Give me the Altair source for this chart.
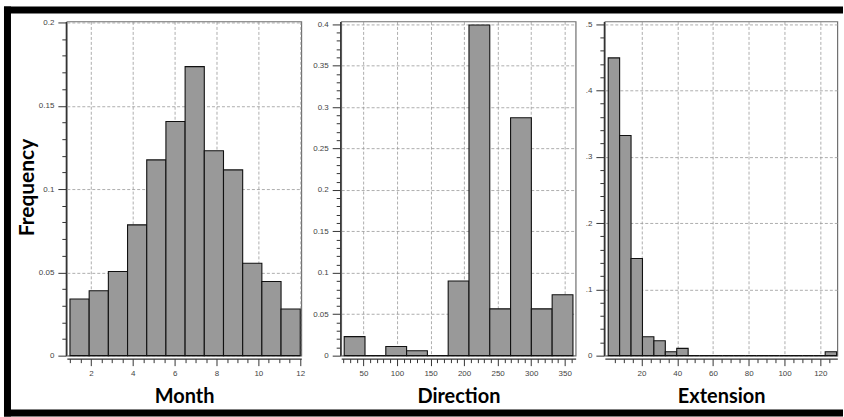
import altair as alt
import pandas as pd

# ---- data ----
month_freq = [0.034, 0.039, 0.0505, 0.0785, 0.1175, 0.1405, 0.1735, 0.123, 0.1115, 0.0555, 0.0445, 0.028]
month_start, month_width = 1.0, 11.0 / 12.0

direction_freq = [0.023, 0.0, 0.011, 0.006, 0.0, 0.09, 0.399, 0.0565, 0.287, 0.0565, 0.0735]
direction_start, direction_width = 21.3, 31.0

extension_freq = [0.449, 0.332, 0.1465, 0.0285, 0.0225, 0.006, 0.011,
                  0, 0, 0, 0, 0, 0, 0, 0, 0, 0, 0, 0, 0.006]
extension_start, extension_width = 1.4, 6.385

# tick positions (minor + major) and label steps
month_ticks = [1 + 0.5 * i for i in range(23)]
direction_ticks = list(range(20, 361, 10))
extension_ticks = list(range(5, 126, 5))
month_yticks = [round(0.01 * i, 2) for i in range(21)]
direction_yticks = [round(0.01 * i, 2) for i in range(41)]
extension_yticks = [round(0.02 * i, 2) for i in range(26)]


def hist_df(freq, start, width):
    return pd.DataFrame({
        "start": [start + i * width for i in range(len(freq))],
        "end": [start + (i + 1) * width for i in range(len(freq))],
        "freq": freq,
    })


def cond(test, major, minor):
    return {"condition": {"test": test, "value": major}, "value": minor}


def x_axis(values, test, title):
    return alt.Axis(
        values=values, title=title, offset=3,
        tickSize=cond(test, 7, 4),
        gridOpacity=cond(test, 1, 0),
        labelExpr=f"({test}) ? format(datum.value, '~g') : ''",
        labelPadding=4, titleY=44, titleBaseline="alphabetic",
    )


def y_axis(values, test, label_expr, title=None):
    kw = dict(
        values=values, offset=1,
        tickSize=cond(test, 8, 4),
        gridOpacity=cond(test, 1, 0),
        labelExpr=label_expr, labelPadding=4,
    )
    if title:
        kw.update(title=title, titleX=-32, titleY=166, titleAngle=270,
                  titleAlign="center", titleBaseline="alphabetic",
                  titleFontSize=21)
    else:
        kw.update(title=None)
    return alt.Axis(**kw)


def panel(df, xdom, ydom, xaxis, yaxis, width):
    return alt.Chart(df).mark_bar(
        color="#999999", stroke="#111111", strokeWidth=1.1
    ).encode(
        x=alt.X("start:Q", scale=alt.Scale(domain=xdom, nice=False, zero=False), axis=xaxis),
        x2="end:Q",
        y=alt.Y("freq:Q", scale=alt.Scale(domain=ydom, nice=False), axis=yaxis),
        y2=alt.datum(0),
    ).properties(width=width, height=335)


maj5 = "round(datum.value * 100) % 5 === 0"
maj10 = "round(datum.value * 100) % 10 === 0"

p1 = panel(
    hist_df(month_freq, month_start, month_width), [0.85, 12.05], [0, 0.2006],
    x_axis(month_ticks, "datum.value % 2 === 0", "Month"),
    y_axis(month_yticks, maj5, f"({maj5}) ? format(datum.value, '~g') : ''", "Frequency"),
    235,
)
p2 = panel(
    hist_df(direction_freq, direction_start, direction_width), [16.8, 366.3], [0, 0.4033],
    x_axis(direction_ticks, "datum.value % 50 === 0", "Direction"),
    y_axis(direction_yticks, maj5, f"({maj5}) ? format(datum.value, '~g') : ''"),
    235,
)
p3 = panel(
    hist_df(extension_freq, extension_start, extension_width), [-0.47, 129.5], [0, 0.504],
    x_axis(extension_ticks, "datum.value % 20 === 0", "Extension"),
    y_axis(extension_yticks, maj10,
           f"({maj10}) ? (datum.value === 0 ? '0' : replace(format(datum.value, '~g'), '0.', '.')) : ''"),
    233,
)

# black frame around the figure (left, top, bottom), drawn as filled bands
one = pd.DataFrame({"k": [0]})
band = dict(color="black", strokeWidth=0)
left_edge = alt.Chart(one).mark_rect(**band).encode(
    x=alt.value(-63), x2=alt.value(-56), y=alt.value(-15), y2=alt.value(396))
top_edge = alt.Chart(one).mark_rect(**band).encode(
    x=alt.value(-63), x2=alt.value(778), y=alt.value(-15), y2=alt.value(-8))
bottom_edge = alt.Chart(one).mark_rect(**band).encode(
    x=alt.value(-63), x2=alt.value(778), y=alt.value(389), y2=alt.value(396))

p1_layer = alt.layer(p1, left_edge, top_edge, bottom_edge)

right = alt.hconcat(p2, p3, spacing=29.3, bounds="flush")
chart = alt.hconcat(p1_layer, right, spacing=40, bounds="flush").properties(
    padding={"left": 3, "top": 5, "right": 0, "bottom": 1},
    background="white",
).configure_view(
    stroke="#707070", strokeWidth=1.2,
).configure_axis(
    domainColor="#333333", domainWidth=1.3, tickColor="#333333", tickWidth=1,
    labelFont="Liberation Sans", labelFontSize=8, labelColor="#444444",
    gridColor="#999999", gridDash=[3, 2], gridWidth=0.8,
    titleFont="Lato", titleFontSize=20, titleFontWeight="bold", titleColor="black",
    labelOverlap=False, labelFlush=False, labelBound=False,
)

chart.save("out.html", embed_options={"renderer": "svg", "actions": False})
